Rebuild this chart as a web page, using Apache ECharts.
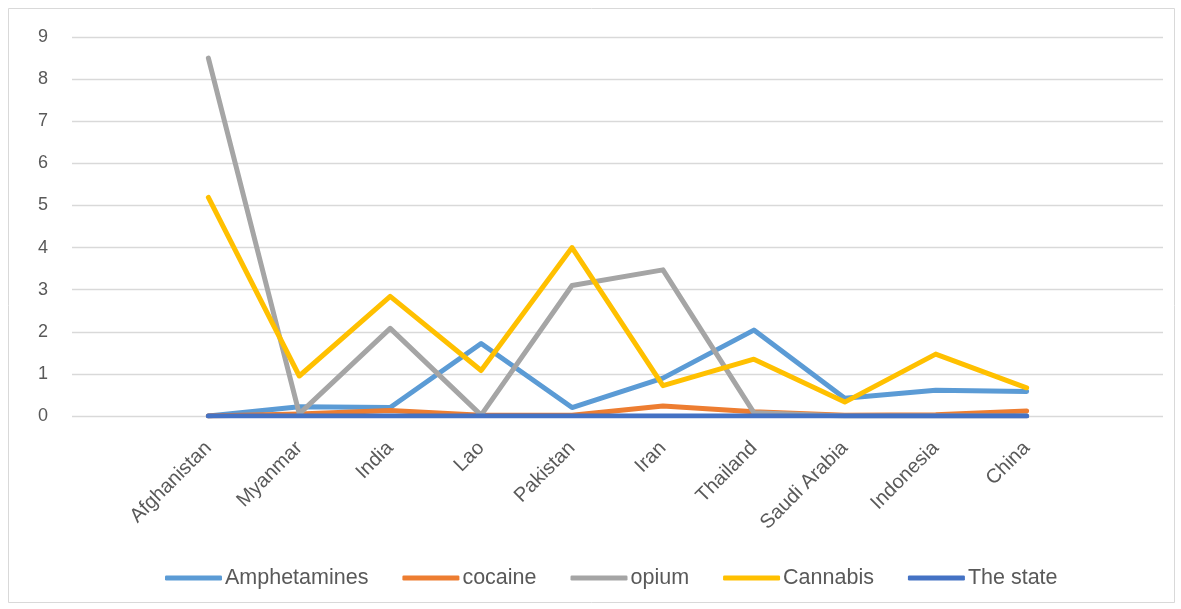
<!DOCTYPE html>
<html>
<head>
<meta charset="utf-8">
<script src="https://cdn.jsdelivr.net/npm/echarts@6/dist/echarts.min.js"></script>
<style>
  html, body { margin: 0; padding: 0; background: #fff; }
  #main { width: 1181px; height: 609px; }
</style>
</head>
<body>
<div id="main"></div>
<script>
// categories (empty slots at both ends, like the original sheet)
var countries = ['', 'Afghanistan', 'Myanmar', 'India', 'Lao', 'Pakistan', 'Iran', 'Thailand', 'Saudi Arabia', 'Indonesia', 'China', ''];

var amphetamines = [null, 0, 0.22, 0.2, 1.72, 0.2, 0.9, 2.04, 0.42, 0.61, 0.58, null];
var cocaine      = [null, 0, 0.05, 0.13, 0.02, 0.02, 0.24, 0.1, 0.02, 0.03, 0.12, null];
var opium        = [null, 8.5, 0.05, 2.08, 0.02, 3.1, 3.47, 0.08, 0, 0, 0, null];
var cannabis     = [null, 5.19, 0.95, 2.84, 1.08, 4.0, 0.72, 1.35, 0.33, 1.47, 0.67, null];
var theState     = [null, 0, 0, 0, 0, 0, 0, 0, 0, 0, 0, null];

var yTicks = [0, 9, 1]; // min, max, step

var myChart = echarts.init(document.getElementById('main'));

function mkLine(name, data, color) {
    return {
        name: name,
        type: 'line',
        data: data,
        symbol: 'none',
        connectNulls: false,
        lineStyle: { width: 5, color: color, cap: 'round', join: 'round' },
        itemStyle: { color: color },
        animation: false
    };
}

var option = {
    backgroundColor: '#ffffff',
    textStyle: { fontFamily: 'Liberation Sans, sans-serif' },
    graphic: [{
        type: 'rect',
        shape: { x: 8.5, y: 8.5, width: 1166, height: 594 },
        style: { fill: 'none', stroke: '#d9d9d9', lineWidth: 1 },
        silent: true
    }],
    grid: { left: 72, right: 18, top: 37, bottom: 193, containLabel: false },
    xAxis: {
        type: 'category',
        data: countries,
        boundaryGap: true,
        axisLine: { show: false },
        axisTick: { show: false },
        axisLabel: {
            interval: 0,
            rotate: 45,
            margin: 29,
            color: '#595959',
            fontSize: 20
        }
    },
    yAxis: {
        type: 'value',
        min: yTicks[0],
        max: yTicks[1],
        interval: yTicks[2],
        axisLine: { show: false },
        axisTick: { show: false },
        axisLabel: {
            color: '#595959',
            fontSize: 18,
            margin: 24
        },
        splitLine: { lineStyle: { color: '#d9d9d9', width: 1.3 } }
    },
    legend: {
        top: 562,
        left: 160,
        icon: 'roundRect',
        itemWidth: 57,
        itemHeight: 5,
        itemGap: 34,
        textStyle: { color: '#595959', fontSize: 21.5, padding: [0, 0, 0, -2] },
        data: ['Amphetamines', 'cocaine', 'opium', 'Cannabis', 'The state']
    },
    series: [
        mkLine('Amphetamines', amphetamines, '#5b9bd5'),
        mkLine('cocaine', cocaine, '#ed7d31'),
        mkLine('opium', opium, '#a5a5a5'),
        mkLine('Cannabis', cannabis, '#ffc000'),
        mkLine('The state', theState, '#4472c4')
    ]
};

myChart.setOption(option);
</script>
</body>
</html>
